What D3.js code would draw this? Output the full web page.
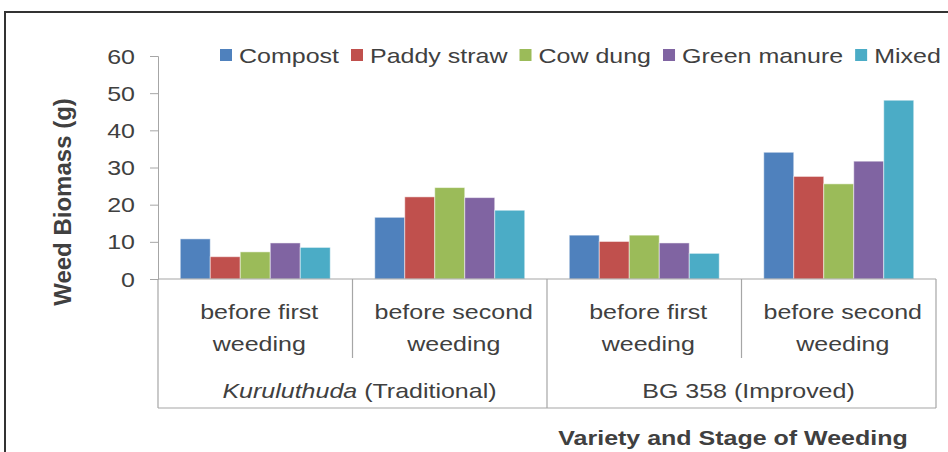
<!DOCTYPE html>
<html>
<head>
<meta charset="utf-8">
<script src="https://cdn.jsdelivr.net/npm/d3@7"></script>
<style>
  body { margin: 0; background: #fff; }
  svg text { font-family: "Liberation Sans", Arial, sans-serif; fill: #404040; }
</style>
</head>
<body>
<script>
// chart data
var varieties = ["Kuruluthuda", "BG 358"];
var varietyNotes = ["(Traditional)", "(Improved)"];
var stages = ["before first weeding", "before second weeding"];
var series = ["Compost", "Paddy straw", "Cow dung", "Green manure", "Mixed"];
var colors = ["#4F81BD", "#C0504D", "#9BBB59", "#8064A2", "#4BACC6"];
var yTicks = [0, 10, 20, 30, 40, 50, 60];

// one value per series, per variety/stage group
var compost     = [10.8, 16.6, 11.8, 34.1];
var paddyStraw  = [6.0, 22.1, 10.1, 27.6];
var cowDung     = [7.3, 24.6, 11.8, 25.6];
var greenManure = [9.7, 21.9, 9.7, 31.7];
var mixed       = [8.5, 18.5, 6.9, 48.1];
var values = [compost, paddyStraw, cowDung, greenManure, mixed];

var W = 948, H = 452;
var stretch = 1.19; // the reference text looks wider than normal

var svg = d3.select("body").append("svg")
  .attr("width", W).attr("height", H);

// outer frame
svg.append("rect")
  .attr("x", 5).attr("y", 12)
  .attr("width", 980).attr("height", 480)
  .attr("fill", "none").attr("stroke", "#333").attr("stroke-width", 2);

// groups: variety x stage
var groups = [];
varieties.forEach(function(v, i) {
  stages.forEach(function(s, j) { groups.push(i + "-" + j); });
});

var x0 = d3.scaleBand().domain(groups).range([158, 936]);
var x1 = d3.scaleBand().domain(series).range([0, x0.bandwidth()])
  .paddingInner(0).paddingOuter(0.742);
var y = d3.scaleLinear().domain([0, 60]).range([279, 56]);

var axisColor = "#a6a6a6";

// stretched text helper
function stext(g, x, yy, str, opts) {
  opts = opts || {};
  var t = g.append("g")
    .attr("transform", "translate(" + x + "," + yy + ") scale(" + stretch + ",1)")
    .append("text")
    .attr("font-size", opts.size || 21)
    .attr("text-anchor", opts.anchor || "middle")
    .attr("font-weight", opts.weight || "normal");
  if (str) t.text(str);
  return t;
}

// y axis
var yAxis = svg.append("g")
  .attr("transform", "translate(158,0)")
  .call(d3.axisLeft(y).tickValues(yTicks).tickSize(8).tickFormat(""));
yAxis.select(".domain").attr("stroke", axisColor);
yAxis.selectAll(".tick line").attr("stroke", axisColor);

yTicks.forEach(function(t) {
  stext(svg, 135, y(t) + 7.5, String(t), {anchor: "end"});
});

// bars
var bars = svg.append("g");
series.forEach(function(s, si) {
  bars.selectAll(".bar" + si)
    .data(values[si])
    .enter()
    .append("rect")
    .attr("x", function(d, gi) { return x0(groups[gi]) + x1(s); })
    .attr("y", function(d) { return y(d); })
    .attr("width", x1.bandwidth())
    .attr("height", function(d) { return y(0) - y(d); })
    .attr("fill", colors[si])
    .attr("stroke", "#fff").attr("stroke-opacity", 0.5).attr("stroke-width", 1);
});

// x axis line and category dividers
var ax = svg.append("g").attr("stroke", axisColor).attr("stroke-width", 1.2);
ax.append("line")
  .attr("x1", 158).attr("x2", 936).attr("y1", y(0)).attr("y2", y(0));
ax.append("line")
  .attr("x1", 158).attr("x2", 936).attr("y1", 408).attr("y2", 408);

groups.forEach(function(g, gi) {
  var left = x0(g);
  var outer = gi % stages.length === 0;
  ax.append("line")
    .attr("x1", left).attr("x2", left)
    .attr("y1", y(0)).attr("y2", outer ? 408 : 358);
});
ax.append("line")
  .attr("x1", x0.range()[1]).attr("x2", x0.range()[1])
  .attr("y1", y(0)).attr("y2", 408);

// stage labels
groups.forEach(function(g, gi) {
  var cx = x0(g) + x0.bandwidth() / 2 + 4;
  var words = stages[gi % stages.length].split(" ");
  stext(svg, cx, 319, words.slice(0, 2).join(" "));
  stext(svg, cx, 351, words.slice(2).join(" "));
});

// variety labels
varieties.forEach(function(v, i) {
  var cx = x0(i + "-0") + x0.bandwidth() + 7;
  var t = stext(svg, cx, 398, null);
  t.append("tspan").attr("font-style", i === 0 ? "italic" : "normal").text(v);
  t.append("tspan").text(" " + varietyNotes[i]);
});

// axis titles
svg.append("text")
  .attr("transform", "translate(71,202) rotate(-90)")
  .attr("text-anchor", "middle")
  .attr("font-size", 24)
  .attr("font-weight", "bold")
  .text("Weed Biomass (g)");

stext(svg, 733, 445, "Variety and Stage of Weeding", {weight: "bold"});

// legend
var legend = svg.append("g");
var lx = 220;
series.forEach(function(s, si) {
  legend.append("rect")
    .attr("x", lx).attr("y", 49)
    .attr("width", 12).attr("height", 12)
    .attr("fill", colors[si]);
  var t = stext(legend, lx + 19, 63, s, {anchor: "start"});
  lx = lx + 19 + t.node().getComputedTextLength() * stretch + 12;
});
</script>
</body>
</html>
